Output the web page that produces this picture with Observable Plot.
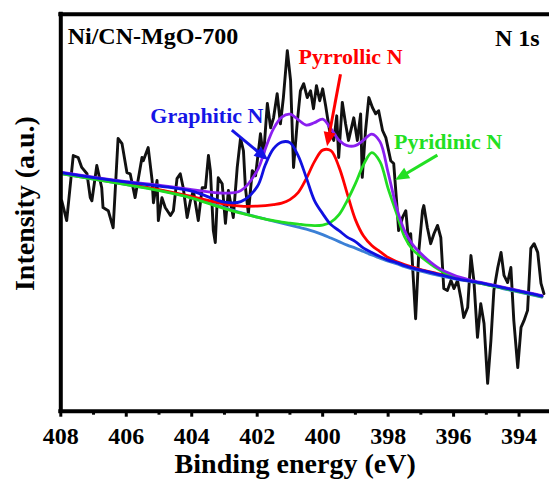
<!DOCTYPE html>
<html><head><meta charset="utf-8">
<script src="https://cdn.jsdelivr.net/npm/d3@7"></script>
<script src="https://cdn.jsdelivr.net/npm/@observablehq/plot@0.6"></script>
<style>html,body{margin:0;padding:0;background:#fff}</style>
</head><body><div id="chart"></div>
<script>
// Raw N 1s spectrum (binding energy, eV / intensity, a.u.)
const rawEnergy = [407.97,407.82,407.62,407.47,407.36,407.20,407.10,407.05,406.90,406.75,
406.71,406.55,406.40,406.25,406.13,405.98,405.88,405.73,405.52,405.48,
405.33,405.21,405.17,405.06,405.02,404.91,404.81,404.65,404.56,404.45,
404.35,404.26,404.14,404.04,403.95,403.80,403.68,403.58,403.49,403.43,
403.34,403.28,403.19,403.07,402.97,402.88,402.73,402.61,402.51,402.42,
402.36,402.27,402.15,402.05,401.90,401.81,401.69,401.59,401.50,401.39,
401.29,401.20,401.08,400.98,400.89,400.78,400.68,400.58,400.47,400.37,
400.28,400.19,400.09,400.00,399.91,399.79,399.66,399.57,399.51,399.40,
399.30,399.21,399.05,398.94,398.84,398.79,398.69,398.59,398.48,398.38,
398.29,398.17,398.07,397.92,397.83,397.72,397.68,397.56,397.46,397.37,
397.31,397.16,397.06,396.95,396.91,396.80,396.70,396.60,396.49,396.39,
396.30,396.19,396.08,395.99,395.88,395.78,395.69,395.57,395.47,395.38,
395.27,395.17,395.07,394.96,394.86,394.77,394.65,394.55,394.46,394.35,
394.25,394.16,394.04,393.94,393.85,393.74,393.64,393.54,393.43,393.33,393.24];
const rawIntensity = [53.0,48.0,64.4,63.9,61.4,59.8,53.8,53.0,61.9,56.3,
51.3,50.5,46.2,68.7,67.4,60.1,59.8,53.8,63.9,63.1,
66.4,58.1,52.5,58.1,48.0,53.8,51.3,49.3,50.5,58.6,
59.8,56.3,48.8,53.0,55.6,48.0,56.3,56.3,64.4,60.6,
45.5,42.5,58.8,57.3,47.3,55.6,48.8,61.4,68.7,65.6,
56.3,49.8,60.6,59.3,69.9,63.9,77.5,71.4,73.9,80.0,
72.4,79.0,90.8,83.3,61.4,72.4,80.7,82.5,79.0,80.7,
76.2,82.0,78.2,81.2,77.0,70.7,68.2,74.4,63.9,77.8,
72.4,68.2,73.9,68.2,74.9,58.9,70.7,79.0,76.5,74.9,
75.7,70.7,68.9,63.1,62.4,50.5,45.5,48.8,50.5,42.2,
44.7,23.3,40.5,50.5,51.8,46.2,42.2,44.7,46.8,43.7,
30.9,30.4,32.9,30.9,32.9,28.6,23.6,26.1,39.2,32.9,
18.6,27.1,22.1,7.0,17.8,30.4,36.2,40.0,34.2,32.4,
36.2,22.8,11.0,21.1,22.8,25.4,41.0,42.2,40.0,32.2,29.6];

// Fitted curves sampled at these energies
const fitEnergy = [408,407,406,405,404,403,402.5,402,401.75,401.5,401.25,401,400.75,400.5,400.25,400,
399.75,399.5,399.25,399,398.75,398.5,398.25,398,397.75,397.5,397.25,397,396.5,396,395.5,395,394.5,394,393.5,393.3];
const backgroundFit = [59.84,58.46,57.07,55.69,53.80,51.28,50.03,48.89,48.39,47.89,47.38,46.88,46.37,45.87,45.24,44.49,
43.61,42.72,41.84,41.09,40.21,39.33,38.57,37.81,37.19,36.43,35.80,35.30,34.29,33.41,32.65,31.90,30.89,30.01,29.13,28.75];
const graphiticFit = [60.10,58.84,57.70,56.70,55.44,52.67,52.79,56.57,62.11,66.14,67.77,67.65,64.38,58.84,53.05,49.77,
47.00,45.49,43.86,42.72,41.09,39.95,38.95,38.07,37.44,36.68,36.05,35.55,34.54,33.53,32.78,32.02,31.14,30.26,29.38,29.00];
const pyrrolicFit = [59.97,58.59,57.20,55.82,54.05,52.17,51.66,51.66,51.79,52.04,52.42,53.30,55.06,58.59,62.87,65.76,
65.63,61.48,54.81,48.26,44.11,41.72,40.21,38.70,37.69,36.93,36.30,35.67,34.67,33.66,32.78,32.02,31.14,30.26,29.38,29.00];
const pyridinicFit = [59.84,58.46,57.07,55.56,53.68,51.03,49.90,48.89,48.39,48.01,47.63,47.38,47.13,46.88,46.75,46.88,
47.63,49.52,53.05,57.33,62.11,65.13,62.87,56.07,50.03,43.98,40.71,38.95,35.93,33.79,32.78,31.90,31.02,30.14,29.26,28.88];
const envelopeFit = [60.22,58.96,57.83,56.95,55.82,54.93,55.56,60.60,66.14,71.17,74.07,74.82,73.44,72.05,72.68,73.56,
71.17,68.28,66.89,66.89,68.28,69.79,67.90,60.10,51.54,45.49,41.97,39.70,36.30,34.29,33.03,32.15,31.27,30.39,29.51,29.13];

const majorTicks = [408,406,404,402,400,398,396,394];
const minorTicks = [407,405,403,401,399,397,395];

const labelText = ["Graphitic N", "Pyrrollic N", "Pyridinic N"];
const labelX = [401.81, 397.56, 397.82];
const labelY = [74.45, 89.17, 67.9];
const labelColor = ["#1515e6", "#ff0000", "#22e022"];
const labelAnchor = ["end", "end", "start"];

const arrows = [
  {x1: 402.76, y1: 70.67, x2: 401.65, y2: 63.12, color: "#1515e6"},
  {x1: 399.44, y1: 84.77, x2: 399.85, y2: 66.64, color: "#ff0000"},
  {x1: 396.48, y1: 64.38, x2: 397.77, y2: 58.08, color: "#22e022"}
];

const raw = rawEnergy.map((e, i) => ({e, v: rawIntensity[i]}));
const fits = fitEnergy.map((e, i) => ({e, bg: backgroundFit[i], gr: graphiticFit[i], pyr: pyrrolicFit[i], pyd: pyridinicFit[i], env: envelopeFit[i]}));
const labels = labelText.map((text, i) => ({text, x: labelX[i], y: labelY[i], color: labelColor[i], anchor: labelAnchor[i]}));

const FONT = "'Liberation Serif', 'Times New Roman', Times, serif";

function arrowMark(index, scales) {
  const g = d3.create("svg:g");
  for (const a of arrows) {
    const x1 = scales.x(a.x1), y1 = scales.y(a.y1), x2 = scales.x(a.x2), y2 = scales.y(a.y2);
    const dx = x2 - x1, dy = y2 - y1, len = Math.hypot(dx, dy);
    const ux = dx / len, uy = dy / len, L = 14, W = 6;
    const bx = x2 - ux * L, by = y2 - uy * L;
    g.append("line").attr("x1", x1).attr("y1", y1).attr("x2", bx + ux * 2).attr("y2", by + uy * 2)
      .attr("stroke", a.color).attr("stroke-width", 3);
    g.append("path").attr("d", `M${x2},${y2}L${bx - uy * W},${by + ux * W}L${bx + uy * W},${by - ux * W}Z`)
      .attr("fill", a.color);
  }
  return g.node();
}

const lw = 2.8;
const labelMarks = ["start", "end"].map(anchor =>
  Plot.text(labels.filter(d => d.anchor === anchor), {x: "x", y: "y", text: "text", fill: "color", textAnchor: anchor, lineAnchor: "middle", fontSize: 22, fontWeight: "bold", fontFamily: FONT}));

const plot = Plot.plot({
  width: 549, height: 482,
  marginLeft: 60.3, marginRight: 0, marginTop: 13.7, marginBottom: 71.3,
  x: {domain: [408, 393.07], axis: null},
  y: {domain: [0, 100], axis: null},
  color: {type: "identity"},
  style: {fontFamily: FONT, fontWeight: "bold", background: "white", color: "black"},
  marks: [
    Plot.line(raw, {x: "e", y: "v", stroke: "#111", strokeWidth: 2.9, strokeLinejoin: "round"}),
    Plot.line(fits, {x: "e", y: "bg", curve: "catmull-rom", stroke: "#3b80d6", strokeWidth: lw}),
    Plot.line(fits, {x: "e", y: "pyr", curve: "catmull-rom", stroke: "#ff0000", strokeWidth: lw}),
    Plot.line(fits, {x: "e", y: "pyd", curve: "catmull-rom", stroke: "#22dd22", strokeWidth: lw}),
    Plot.line(fits, {x: "e", y: "env", curve: "catmull-rom", stroke: "#8a1ff0", strokeWidth: lw}),
    Plot.line(fits, {x: "e", y: "gr", curve: "catmull-rom", stroke: "#1010e0", strokeWidth: lw}),
    Plot.ruleY([0, 100], {strokeWidth: 4, strokeLinecap: "square"}),
    Plot.ruleX([408], {strokeWidth: 4, strokeLinecap: "square"}),
    Plot.axisX({ticks: majorTicks, tickSize: 6, tickPadding: 10, strokeWidth: 3, fontSize: 24, fontWeight: "bold", fontFamily: FONT, label: null, tickFormat: d => String(d)}),
    Plot.axisX({ticks: minorTicks, tickSize: 4, strokeWidth: 3, label: null, tickFormat: () => ""}),
    Plot.text(["Binding energy (eV)"], {x: () => 400.84, frameAnchor: "bottom", dy: 53.3, textAnchor: "middle", lineAnchor: "middle", fontSize: 28, fontWeight: "bold", fontFamily: FONT, fill: "black"}),
    Plot.text(["Intensity (a.u.)"], {y: () => 52.3, frameAnchor: "left", dx: -35.8, rotate: -90, textAnchor: "middle", lineAnchor: "middle", fontSize: 28, fontWeight: "bold", fontFamily: FONT, fill: "black"}),
    Plot.text(["Ni/CN-MgO-700"], {x: () => 407.79, y: () => 94.44, textAnchor: "start", lineAnchor: "middle", fontSize: 24, fontWeight: "bold", fontFamily: FONT, fill: "black"}),
    Plot.text(["N 1s"], {x: () => 393.37, y: () => 94.0, textAnchor: "end", lineAnchor: "middle", fontSize: 24, fontWeight: "bold", fontFamily: FONT, fill: "black"}),
    ...labelMarks,
    arrowMark
  ]
});
document.getElementById("chart").appendChild(plot);
</script></body></html>
